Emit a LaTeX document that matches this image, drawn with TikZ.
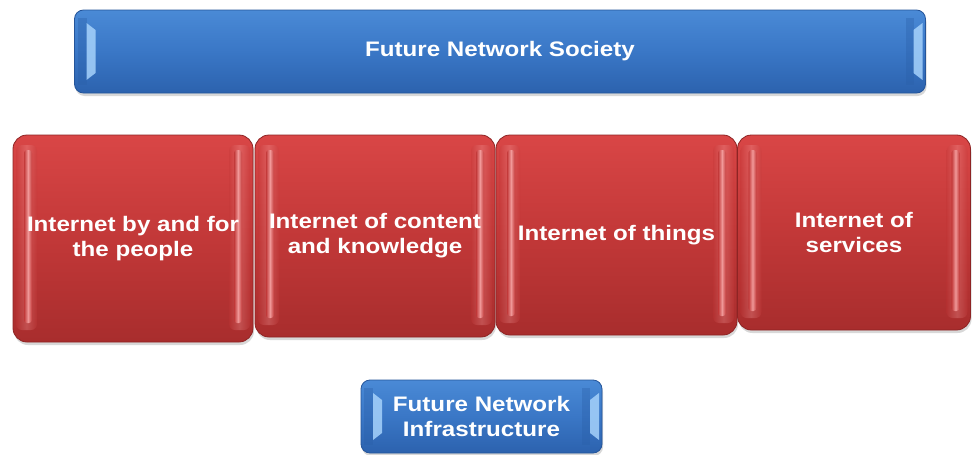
\documentclass[tikz,border=0pt]{standalone}
\usepackage{fontspec}
\newfontfamily\lab[FakeStretch=1.15]{Liberation Sans}
\usetikzlibrary{shadows}

\definecolor{redtop}{HTML}{D94646}
\definecolor{redmid}{HTML}{C23838}
\definecolor{redbot}{HTML}{A82D2D}
\definecolor{redline}{HTML}{8E2424}
\definecolor{redhl}{HTML}{F4A0A0}
\definecolor{bluetop}{HTML}{4A8AD6}
\definecolor{bluemid}{HTML}{3A77C6}
\definecolor{bluebot}{HTML}{2C62AE}
\definecolor{blueline}{HTML}{25559A}
\definecolor{bluehl}{HTML}{A6D2FB}
\definecolor{bluedk}{HTML}{2A5FA8}

\tikzset{
  panel/.style={align=center, text=white, inner sep=0pt,
    font=\lab\bfseries\fontsize{21}{25}\selectfont, line width=0.8pt,
    drop shadow={opacity=0.3, shadow xshift=1pt, shadow yshift=-3pt}},
  % red tiles: soft vertical highlight bands near both side edges
  redpanel/.style={panel, rounded corners=14pt, draw=redline,
    top color=redtop, bottom color=redbot, middle color=redmid,
    path picture={
      \begin{scope}[sharp corners]
      \shade[rounded corners=6pt, left color=redmid, right color=redmid, middle color=redhl, opacity=0.3]
        ([xshift=3pt,yshift=-10pt]path picture bounding box.north west) rectangle
        ([xshift=24pt,yshift=12pt]path picture bounding box.south west);
      \shade[rounded corners=3pt, left color=redmid, right color=redmid, middle color=redhl, opacity=0.9]
        ([xshift=11pt,yshift=-15pt]path picture bounding box.north west) rectangle
        ([xshift=19pt,yshift=19pt]path picture bounding box.south west);
      \shade[rounded corners=6pt, left color=redmid, right color=redmid, middle color=redhl, opacity=0.3]
        ([xshift=-24pt,yshift=-10pt]path picture bounding box.north east) rectangle
        ([xshift=-3pt,yshift=12pt]path picture bounding box.south east);
      \shade[rounded corners=3pt, left color=redmid, right color=redmid, middle color=redhl, opacity=0.9]
        ([xshift=-19pt,yshift=-15pt]path picture bounding box.north east) rectangle
        ([xshift=-11pt,yshift=19pt]path picture bounding box.south east);
      \end{scope}
    }},
  % blue bars: bevelled light strips on the short sides
  bluepanel/.style={panel, rounded corners=9pt, draw=blueline,
    top color=bluetop, bottom color=bluebot, middle color=bluemid,
    path picture={
      \begin{scope}[sharp corners]
      \fill[bluedk, opacity=0.35]
        ([xshift=3pt,yshift=-8pt]path picture bounding box.north west) rectangle
        ([xshift=12pt,yshift=8pt]path picture bounding box.south west);
      \fill[bluehl, opacity=0.85]
        ([xshift=12pt,yshift=-13pt]path picture bounding box.north west) --
        ([xshift=21pt,yshift=-20pt]path picture bounding box.north west) --
        ([xshift=21pt,yshift=20pt]path picture bounding box.south west) --
        ([xshift=12pt,yshift=13pt]path picture bounding box.south west) -- cycle;
      \fill[bluedk, opacity=0.35]
        ([xshift=-20pt,yshift=-8pt]path picture bounding box.north east) rectangle
        ([xshift=-12pt,yshift=8pt]path picture bounding box.south east);
      \fill[bluehl, opacity=0.85]
        ([xshift=-3pt,yshift=-13pt]path picture bounding box.north east) --
        ([xshift=-12pt,yshift=-20pt]path picture bounding box.north east) --
        ([xshift=-12pt,yshift=20pt]path picture bounding box.south east) --
        ([xshift=-3pt,yshift=13pt]path picture bounding box.south east) -- cycle;
      \end{scope}
    }},
}

\begin{document}
\begin{tikzpicture}[x=1pt, y=-1pt]
  \fill[white] (0,0) rectangle (972,455);
  \useasboundingbox (0,0) rectangle (972,455);

  \node[bluepanel, minimum width=851pt, minimum height=83pt] (society) at (500,51.5) {Future Network Society};

  \node[redpanel, minimum width=240pt, minimum height=207pt] (people) at (133,238.5) {Internet by and for\\the people};
  \node[redpanel, minimum width=240pt, minimum height=202pt] (content) at (375,236) {Internet of content\\and knowledge};
  \node[redpanel, minimum width=241pt, minimum height=200pt] (things) at (616.5,235) {Internet of things};
  \node[redpanel, minimum width=233pt, minimum height=195pt] (services) at (854,232.5) {Internet of\\services};

  \node[bluepanel, minimum width=241pt, minimum height=73pt] (infra) at (481.5,416.5) {Future Network\\Infrastructure};
\end{tikzpicture}
\end{document}
